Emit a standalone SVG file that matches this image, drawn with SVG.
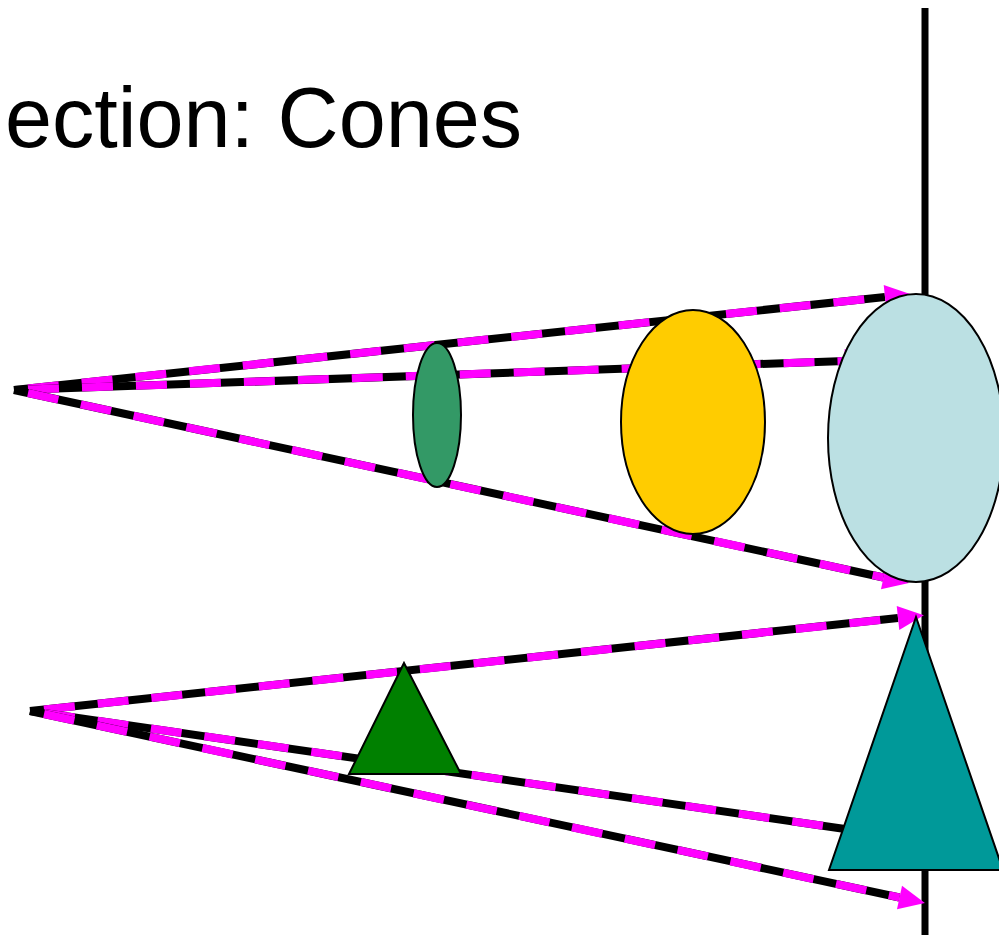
<svg xmlns="http://www.w3.org/2000/svg" width="999" height="935" viewBox="0 0 999 935">
<style>
.blk{stroke:#000;stroke-width:8;fill:none}
.mag{stroke:#FF00FF;stroke-width:8;fill:none;stroke-dasharray:31 23}
.shp{stroke:#000;stroke-width:2}
.title{font-family:"Comic Sans MS","Liberation Sans",sans-serif;font-size:86px;fill:#000}
</style>
<defs>
<marker id="arr" markerUnits="userSpaceOnUse" markerWidth="27" markerHeight="24" refX="0" refY="12" orient="auto" overflow="visible">
<path d="M0,0 L26,12 L0,24 z" fill="#FF00FF"/>
</marker>
</defs>
<rect width="999" height="935" fill="#fff"/>
<text class="title" x="5" y="147" textLength="517" lengthAdjust="spacingAndGlyphs">ection: Cones</text>
<line id="axis" x1="925" y1="8" x2="925" y2="935" stroke="#000" stroke-width="7"/>
<g id="connectors">
<line class="blk" x1="14" y1="390" x2="885" y2="297"/>
<line class="mag" x1="28" y1="388.5" x2="885" y2="297" marker-end="url(#arr)"/>
<line class="blk" x1="14" y1="390" x2="845" y2="361"/>
<line class="mag" x1="28" y1="389.5" x2="845" y2="361" marker-end="url(#arr)"/>
<line class="blk" x1="14" y1="390" x2="883.5" y2="577.5"/>
<line class="mag" x1="28" y1="393" x2="883.5" y2="577.5" marker-end="url(#arr)"/>
<line class="blk" x1="30" y1="711" x2="898" y2="618"/>
<line class="mag" x1="44" y1="709.5" x2="898" y2="618" marker-end="url(#arr)"/>
<line class="blk" x1="30" y1="711" x2="845" y2="829"/>
<line class="mag" x1="44" y1="713" x2="845" y2="829" marker-end="url(#arr)"/>
<line class="blk" x1="30" y1="711" x2="899.5" y2="897.5"/>
<line class="mag" x1="44" y1="714" x2="899.5" y2="897.5" marker-end="url(#arr)"/>
</g>
<g id="green-ellipse"><ellipse class="shp" cx="437" cy="415" rx="24" ry="72" fill="#339966"/></g>
<g id="yellow-ellipse"><ellipse class="shp" cx="693" cy="422" rx="72" ry="112" fill="#FFCC00"/></g>
<g id="blue-ellipse"><ellipse class="shp" cx="916" cy="438" rx="88" ry="144" fill="#BBE0E3"/></g>
<g id="green-triangle"><polygon class="shp" points="404,663 349,774 461,774" fill="#008000"/></g>
<g id="teal-triangle"><polygon class="shp" points="916,617 829,870 1003,870" fill="#009999"/></g>
</svg>
